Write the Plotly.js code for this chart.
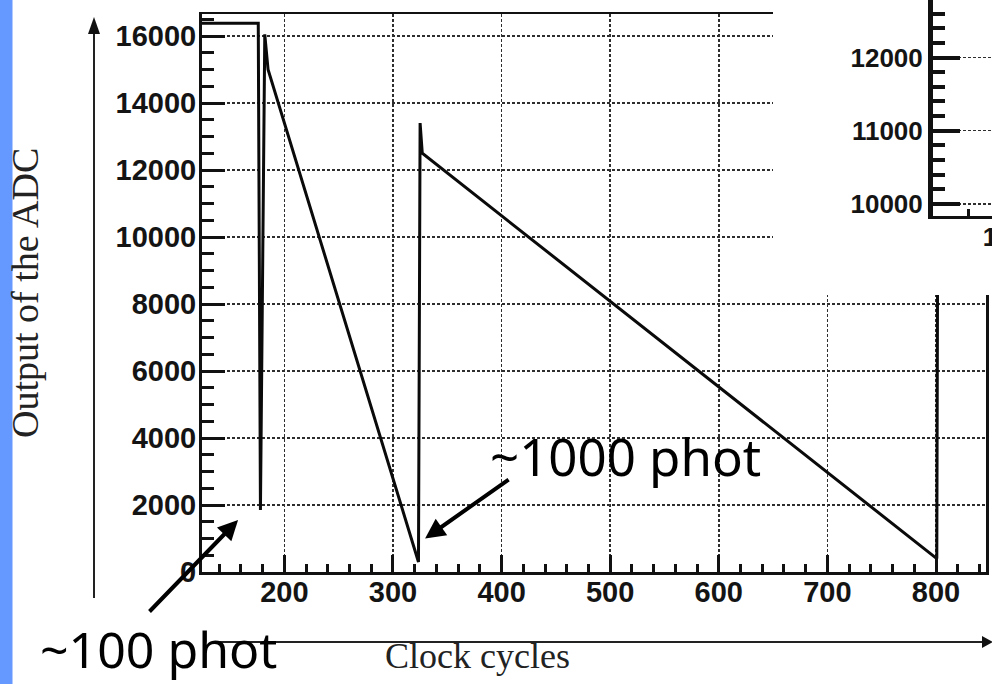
<!DOCTYPE html>
<html>
<head>
<meta charset="utf-8">
<script src="https://cdn.plot.ly/plotly-3.0.1.min.js"></script>
<style>
  html, body { margin: 0; padding: 0; overflow: hidden; background: #ffffff; }
  #chart { width: 1040px; height: 684px; }
</style>
</head>
<body>
<div id="chart"></div>
<script>
// ADC output of the ramp read-out, sampled on the clock
const clockCycles = [124.2, 176, 178, 182, 185, 323.5, 325, 327, 800.7, 802, 846];
const adcOutput   = [16383, 16383, 1850, 16050, 15000, 300, 13400, 12500, 400, 16383, 16383];

// main axes ticks
const xTickVals = [200, 300, 400, 500, 600, 700, 800];
const xTickText = ['200', '300', '400', '500', '600', '700', '800'];
const yTickVals = [0, 2000, 4000, 6000, 8000, 10000, 12000, 14000, 16000];
const yTickText = ['0', '2000', '4000', '6000', '8000', '10000', '12000', '14000', '16000'];

// zoomed panel ticks
const insetXTickVals = [180];
const insetXTickText = ['180'];
const insetYTickVals = [10000, 11000, 12000, 13000];
const insetYTickText = ['10000', '11000', '12000', '13000'];

// photon-count callouts: label and the (cycle, adc) point the arrow marks
const callouts = [
  { label: '~100 phot',  cycle: 157.4, adc: 1552 },
  { label: '~1000 phot', cycle: 329.6, adc: 1000 }
];

const W = 1040, H = 684;
const px = v => v / W;          // pixel column -> paper fraction
const py = v => 1 - v / H;      // pixel row    -> paper fraction

const tickFont = { family: 'Liberation Sans, Arial, sans-serif', size: 29, weight: 'bold', color: '#141414' };
const gridStyle = { showgrid: true, gridcolor: '#2e2e2e', gridwidth: 1.5, griddash: '3px,2px' };

const traces = [
  {
    type: 'scatter', mode: 'lines',
    x: clockCycles, y: adcOutput,
    xaxis: 'x', yaxis: 'y',
    line: { color: '#0a0a0a', width: 3 },
    hoverinfo: 'skip', showlegend: false
  },
  // empty series that open the zoomed panel and its white backing
  { type: 'scatter', mode: 'lines', x: [], y: [], xaxis: 'x2', yaxis: 'y2', hoverinfo: 'skip', showlegend: false },
  { type: 'scatter', mode: 'lines', x: [], y: [], xaxis: 'x3', yaxis: 'y3', hoverinfo: 'skip', showlegend: false }
];

const layout = {
  width: W, height: H,
  margin: { l: 0, r: 0, t: 0, b: 0 },
  paper_bgcolor: '#ffffff', plot_bgcolor: '#ffffff',
  showlegend: false,
  xaxis: Object.assign({
    domain: [px(202), px(986)], range: [124.2, 846], anchor: 'y',
    tickmode: 'array', tickvals: xTickVals, ticktext: xTickText,
    ticks: 'inside', ticklen: 17, tickwidth: 3, tickcolor: '#111',
    minor: { tickmode: 'linear', tick0: 0, dtick: 20, ticks: 'inside', ticklen: 8, tickwidth: 3, tickcolor: '#111', showgrid: false },
    showline: true, linewidth: 2.5, linecolor: '#111', mirror: true,
    zeroline: false, tickfont: tickFont, ticklabelstandoff: -7, fixedrange: true
  }, gridStyle),
  yaxis: Object.assign({
    domain: [py(572), py(14)], range: [0, 16657], anchor: 'x',
    tickmode: 'array', tickvals: yTickVals, ticktext: yTickText,
    ticks: 'inside', ticklen: 23, tickwidth: 3, tickcolor: '#111',
    minor: { tickmode: 'linear', tick0: 0, dtick: 500, ticks: 'inside', ticklen: 12, tickwidth: 3, tickcolor: '#111', showgrid: false },
    showline: true, linewidth: 3, linecolor: '#111', mirror: true,
    zeroline: false, tickfont: tickFont, ticklabelstandoff: -3, fixedrange: true
  }, gridStyle),
  // blank backing for the zoomed panel
  xaxis2: { domain: [px(773), 1], range: [0, 1], anchor: 'y2', showgrid: false, zeroline: false, showline: false, showticklabels: false, ticks: '', fixedrange: true },
  yaxis2: { domain: [py(295), 1], range: [0, 1], anchor: 'x2', showgrid: false, zeroline: false, showline: false, showticklabels: false, ticks: '', fixedrange: true },
  // zoomed panel axes
  xaxis3: {
    domain: [px(933), 1], range: [172, 184], anchor: 'y3',
    tickmode: 'array', tickvals: insetXTickVals, ticktext: insetXTickText,
    ticks: 'inside', ticklen: 14, tickwidth: 3, tickcolor: '#111',
    minor: { tickmode: 'linear', tick0: 0, dtick: 4, ticks: 'inside', ticklen: 7, tickwidth: 3, tickcolor: '#111', showgrid: false },
    showline: true, linewidth: 3, linecolor: '#111', showgrid: false, zeroline: false,
    tickfont: { family: tickFont.family, size: 26, weight: 'bold', color: '#141414' }, ticklabelstandoff: -4, fixedrange: true
  },
  yaxis3: Object.assign({
    domain: [py(216), 1], range: [9836, 12785], anchor: 'x3',
    tickmode: 'array', tickvals: insetYTickVals, ticktext: insetYTickText,
    ticks: 'inside', ticklen: 27, tickwidth: 4, tickcolor: '#111',
    minor: { tickmode: 'linear', tick0: 0, dtick: 200, ticks: 'inside', ticklen: 12, tickwidth: 4, tickcolor: '#111', showgrid: false },
    showline: true, linewidth: 5, linecolor: '#111', zeroline: false,
    tickfont: { family: tickFont.family, size: 26, weight: 'bold', color: '#141414' }, ticklabelstandoff: 0, fixedrange: true
  }, gridStyle),
  shapes: [
    // blue side band
    { type: 'rect', xref: 'paper', yref: 'paper', x0: 0, x1: px(12.5), y0: 0, y1: 1,
      fillcolor: 'rgb(102,153,255)', line: { width: 0 }, layer: 'below' },
    // vertical axis arrow
    { type: 'line', xref: 'paper', yref: 'paper', x0: px(94), x1: px(94), y0: py(598), y1: py(30),
      line: { color: '#222', width: 2 }, layer: 'above' },
    { type: 'path', xref: 'paper', yref: 'paper',
      path: `M ${px(88)} ${py(34)} L ${px(100)} ${py(34)} L ${px(94)} ${py(17)} Z`,
      fillcolor: '#111', line: { width: 0 }, layer: 'above' },
    // horizontal axis arrow
    { type: 'line', xref: 'paper', yref: 'paper', x0: px(213), x1: px(984), y0: py(642), y1: py(642),
      line: { color: '#222', width: 2 }, layer: 'above' },
    { type: 'path', xref: 'paper', yref: 'paper',
      path: `M ${px(982)} ${py(636)} L ${px(982)} ${py(648)} L ${px(993)} ${py(642)} Z`,
      fillcolor: '#111', line: { width: 0 }, layer: 'above' }
  ],
  annotations: [
    { text: 'Output of the ADC', xref: 'paper', yref: 'paper', x: px(25), y: py(293),
      textangle: -90, showarrow: false, xanchor: 'center', yanchor: 'middle',
      font: { family: 'Liberation Serif, Times New Roman, serif', size: 38, color: '#222' } },
    { text: 'Clock cycles', xref: 'paper', yref: 'paper', x: px(477), y: py(656),
      showarrow: false, xanchor: 'center', yanchor: 'middle',
      font: { family: 'Liberation Serif, Times New Roman, serif', size: 36, color: '#222' } },
    { text: callouts[0].label, xref: 'paper', yref: 'paper', x: px(38), y: py(649),
      showarrow: false, xanchor: 'left', yanchor: 'middle',
      font: { family: 'Noto Sans, sans-serif', size: 50, color: '#000' } },
    { text: callouts[1].label, xref: 'paper', yref: 'paper', x: px(488), y: py(456),
      showarrow: false, xanchor: 'left', yanchor: 'middle',
      font: { family: 'Noto Sans, sans-serif', size: 51, color: '#000' } },
    { text: '', xref: 'x', yref: 'y', x: callouts[0].cycle, y: callouts[0].adc,
      showarrow: true, arrowhead: 2, arrowsize: 1, arrowwidth: 4, arrowcolor: '#000',
      ax: -90, ay: 93, standoff: 0 },
    { text: '', xref: 'x', yref: 'y', x: callouts[1].cycle, y: callouts[1].adc,
      showarrow: true, arrowhead: 2, arrowsize: 1, arrowwidth: 4, arrowcolor: '#000',
      ax: 85, ay: -60, standoff: 0 }
  ]
};

Plotly.newPlot('chart', traces, layout, { staticPlot: true, displayModeBar: false });
</script>
</body>
</html>
